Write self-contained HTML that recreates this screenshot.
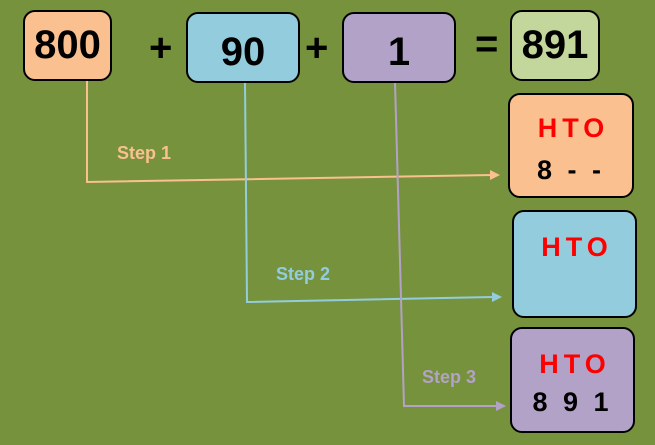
<!DOCTYPE html>
<html><head><style>
body{margin:0;width:655px;height:445px;background:#76923c;position:relative;overflow:hidden;font-family:"Liberation Sans",sans-serif;font-weight:bold}
.b{position:absolute;border:2.5px solid #000;border-radius:12px;box-sizing:border-box;display:flex;align-items:center;justify-content:center;font-size:40px;color:#000}
.o{background:#fac090}.c{background:#93cddd}.p{background:#b3a2c7}.g{background:#c3d69b}
.t{position:absolute;font-size:40px;color:#000}
.h{position:absolute;left:0;right:0;text-align:center;color:#f00;font-size:27px;letter-spacing:5px;padding-left:5px}
.d{position:absolute;left:0;right:0;text-align:center;color:#000;font-size:27px;letter-spacing:4px}
.s{position:absolute;font-size:18px}
</style></head><body>
<svg width="655" height="445" style="position:absolute;left:0;top:0">
<polyline points="87,80 87,182 492,175" fill="none" stroke="#fac090" stroke-width="2"/>
<polygon points="500,175 490,170 490,180" fill="#fac090"/>
<polyline points="245,82 247,302 493,297" fill="none" stroke="#93cddd" stroke-width="2"/>
<polygon points="502,297 492,292 492,302" fill="#93cddd"/>
<polyline points="395,82 404,406 496,406" fill="none" stroke="#b3a2c7" stroke-width="2"/>
<polygon points="506,406 496,401 496,411" fill="#b3a2c7"/>
</svg>
<div class="b o" style="left:23px;top:10px;width:89px;height:71px">800</div>
<div class="t" style="left:149px;top:26px">+</div>
<div class="b c" style="left:186px;top:12px;width:114px;height:71px;padding-top:10px">90</div>
<div class="t" style="left:305px;top:26px">+</div>
<div class="b p" style="left:342px;top:12px;width:114px;height:71px;padding-top:10px">1</div>
<div class="t" style="left:475px;top:22px">=</div>
<div class="b g" style="left:510px;top:10px;width:90px;height:71px">891</div>
<div class="b o" style="left:508px;top:93px;width:126px;height:105px"><div class="h" style="top:18px">HTO</div><div class="d" style="top:60px">8 - -</div></div>
<div class="b c" style="left:512px;top:210px;width:125px;height:108px"><div class="h" style="top:20px">HTO</div></div>
<div class="b p" style="left:510px;top:327px;width:125px;height:106px"><div class="h" style="top:20px">HTO</div><div class="d" style="top:58px">8 9 1</div></div>
<div class="s" style="left:117px;top:143px;color:#fac090">Step 1</div>
<div class="s" style="left:276px;top:264px;color:#93cddd">Step 2</div>
<div class="s" style="left:422px;top:367px;color:#b3a2c7">Step 3</div>
</body></html>
